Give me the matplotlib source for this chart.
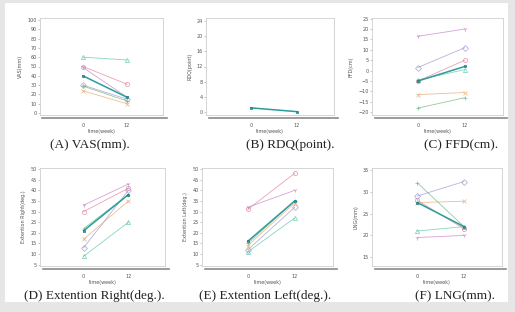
import matplotlib.pyplot as plt
from matplotlib.patches import Rectangle
from matplotlib.lines import Line2D

# time points
weeks = [0, 12]

# values per panel, [week0, week12] for each patient
vas = {
    "tri": [60, 57], "circ": [50, 31], "y": [49, 17],
    "diam": [30, 15], "x": [24, 10], "plus": [29, 13],
}
vas_mean = [40, 17]

rdq_mean = [1, 0]

ffd = {
    "tri": [-4.5, 0.5], "circ": [-5, 5], "y": [16.5, 20],
    "diam": [1.5, 11], "x": [-11.5, -10.5], "plus": [-18, -13],
}
ffd_mean = [-5, 2]

ext_right = {
    "tri": [9, 25], "circ": [30, 41], "y": [33, 43],
    "diam": [13, 40], "x": [17, 35], "plus": [22, 38],
}
ext_right_mean = [21, 38]

ext_left = {
    "tri": [11, 27], "circ": [31, 48], "y": [32, 40],
    "diam": [12, 32], "x": [14, 34], "plus": [15, 35],
}
ext_left_mean = [16, 35]

lng = {
    "tri": [21, 22], "circ": [28, 21.5], "y": [19.5, 20],
    "diam": [29, 32.3], "x": [27.5, 27.8], "plus": [32, 22],
}
lng_mean = [27.5, 22]

# marker / colour for each patient
styles = {
    "tri": ("^", "#55c4a2"),
    "circ": ("o", "#e07a98"),
    "y": ("1", "#c47cc4"),
    "diam": ("D", "#9a90cc"),
    "x": ("x", "#e6a466"),
    "plus": ("+", "#62b478"),
}
mean_color = "#2b9c9c"

panels = [
    # data, mean, ylabel, ylim, yticks, box (px), caption, caption x
    (vas, vas_mean, "VAS(mm)", (-2, 102), range(0, 101, 10), (40, 163, 18, 115), "(A) VAS(mm).", 90),
    (None, rdq_mean, "RDQ(point)", (-0.9, 24.9), range(0, 25, 4), (206, 334, 18, 115), "(B) RDQ(point).", 290),
    (ffd, ffd_mean, "FFD(cm)", (-21.3, 25.3), range(-20, 26, 5), (372, 503, 18, 115), "(C) FFD(cm).", 461),
    (ext_right, ext_right_mean, "Extention Right(deg.)", (4.4, 50.5), range(5, 51, 5), (40, 165, 168, 266), "(D) Extention Right(deg.).", 94),
    (ext_left, ext_left_mean, "Extention Left(deg.)", (4.4, 50.5), range(5, 51, 5), (202, 333, 168, 266), "(E) Extention Left(deg.).", 265),
    (lng, lng_mean, "LNG(mm)", (13, 35.4), range(15, 36, 5), (372, 502, 168, 266), "(F) LNG(mm).", 455),
]

W, H = 515, 312
fig = plt.figure(figsize=(W / 100, H / 100), dpi=100)
fig.patch.set_facecolor("#e6e6e6")
fig.add_artist(Rectangle((5 / W, 1 - 302 / H), 503 / W, 299 / H,
                         transform=fig.transFigure, facecolor="white",
                         edgecolor="none", zorder=0))

for data, mean, ylabel, ylim, yticks, box, caption, cap_x in panels:
    x0, x1, y0, y1 = box
    ax = fig.add_axes([x0 / W, 1 - y1 / H, (x1 - x0) / W, (y1 - y0) / H])
    if data is not None:
        for key, vals in data.items():
            marker, color = styles[key]
            ax.plot(weeks, vals, color=color, lw=0.6, alpha=0.7,
                    marker=marker, markersize=3, markerfacecolor="none",
                    markeredgewidth=0.6)
    ax.plot(weeks, mean, color=mean_color, lw=1.1, marker="s",
            markersize=2, markerfacecolor=mean_color,
            markeredgecolor="#1f7f7f", markeredgewidth=0.5)
    ax.set_xlim(-11.7, 21.8)
    ax.set_ylim(*ylim)
    ax.set_xticks(weeks)
    ax.set_yticks(list(yticks))
    for s in ax.spines.values():
        s.set_color("#cfcfcf")
        s.set_linewidth(0.6)
    ax.tick_params(axis="y", labelsize=3.5, labelcolor="#555555",
                   color="#999999", length=1.5, width=0.4, pad=1)
    ax.tick_params(axis="x", labelsize=3.5, labelcolor="#555555",
                   length=0, pad=5.5)
    ax.set_ylabel(ylabel, fontsize=3.5, color="#555555", labelpad=3)
    ax.set_xlabel("time(week)", fontsize=3.5, color="#555555", labelpad=1)
    # separate x axis line under the box
    ax.add_line(Line2D([0.02, 1.03], [-0.03, -0.03], transform=ax.transAxes,
                       color="#8a8a8a", lw=1.2, clip_on=False))
    fig.text(cap_x / W, 1 - (y1 + 30) / H, caption, ha="center", va="center",
             family="Liberation Serif", fontsize=9.5, color="#222222")

fig.savefig("out.png", dpi=100, facecolor=fig.get_facecolor())
